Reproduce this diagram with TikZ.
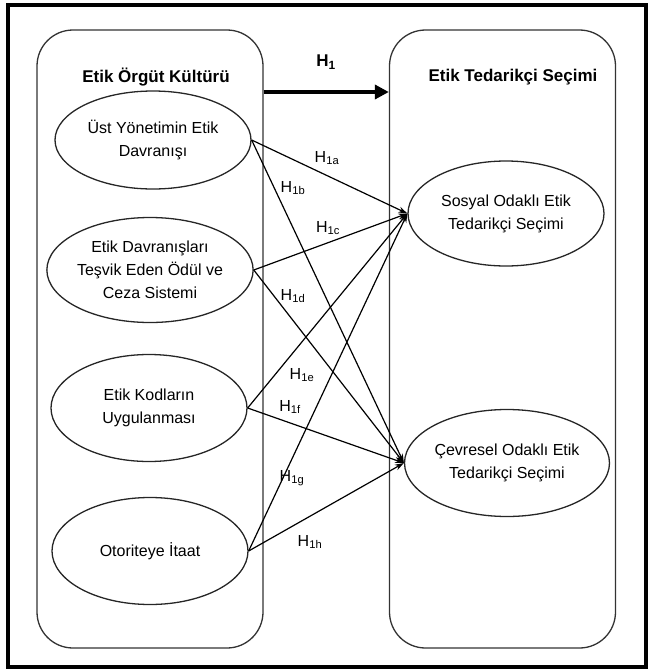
\documentclass[tikz,border=0pt]{standalone}
\usepackage{fontspec}
\setmainfont{Liberation Sans}
\usetikzlibrary{shapes.geometric,arrows.meta}
\begin{document}
\begin{tikzpicture}[x=1pt,y=-1pt,
 box/.style={draw=black!80, line width=1.3pt, rounded corners=36pt, minimum width=226pt, minimum height=618pt, inner sep=0pt},
 oval/.style={ellipse, draw=black!85, line width=1.3pt, inner sep=0pt, align=center, font=\fontsize{16}{23}\selectfont},
 ttl/.style={font=\bfseries\fontsize{17}{20}\selectfont, inner sep=0pt},
 lbl/.style={font=\fontsize{16}{19}\selectfont, inner sep=0pt},
 link/.style={line width=1.2pt, -{Stealth[length=9pt,width=6pt]}},
 bigarrow/.style={line width=4pt, -{Triangle[length=14pt,width=14pt]}},
]
\useasboundingbox (0,0) rectangle (648,670);
\draw[line width=4pt] (8,5) rectangle (646,667);

\node[box] (L) at (150,339) {};
\node[box] (R) at (502.5,339) {};

\node[ttl] (tl) at (156,77) {Etik Örgüt Kültürü};
\node[ttl] (tr) at (513,77) {Etik Tedarikçi Seçimi};

\coordinate (ay) at (0,92);
\draw[bigarrow] (L.east |- ay) -- (R.west |- ay);
\node[ttl] (h1) at (326,62) {H\textsubscript{1}};

\node[oval, minimum width=196pt, minimum height=98pt] (e1) at (153,140) {Üst Yönetimin Etik\\Davranışı};
\node[oval, minimum width=198pt, minimum height=105pt] (e2) at (150,270) {Etik Davranışları\\Teşvik Eden Ödül ve\\Ceza Sistemi};
\node[oval, minimum width=196pt, minimum height=107pt] (e3) at (149,408) {Etik Kodların\\Uygulanması};
\node[oval, minimum width=196pt, minimum height=107pt] (e4) at (150,551) {Otoriteye İtaat};

\node[oval, minimum width=196pt, minimum height=105pt] (sos) at (506,213.5) {Sosyal Odaklı Etik\\Tedarikçi Seçimi};
\node[oval, minimum width=198pt, minimum height=107pt] (cev) at (507,463) {Çevresel Odaklı Etik\\Tedarikçi Seçimi};

\draw[link] (e1.east) -- (sos.west);
\draw[link] (e1.east) -- (cev.west);
\draw[link] (e2.east) -- (sos.west);
\draw[link] (e2.east) -- (cev.west);
\draw[link] (e3.east) -- (sos.west);
\draw[link] (e3.east) -- (cev.west);
\draw[link] (e4.east) -- (sos.west);
\draw[link] (e4.east) -- (cev.west);

\node[lbl] (la) at (327,158) {H\textsubscript{1a}};
\node[lbl] (lb) at (293,188) {H\textsubscript{1b}};
\node[lbl] (lc) at (328,228) {H\textsubscript{1c}};
\node[lbl] (ld) at (293,296) {H\textsubscript{1d}};
\node[lbl] (le) at (302,375) {H\textsubscript{1e}};
\node[lbl] (lf) at (290,407) {H\textsubscript{1f}};
\node[lbl] (lg) at (292,478) {H\textsubscript{1g}};
\node[lbl] (lh) at (310,542) {H\textsubscript{1h}};
\end{tikzpicture}
\end{document}
